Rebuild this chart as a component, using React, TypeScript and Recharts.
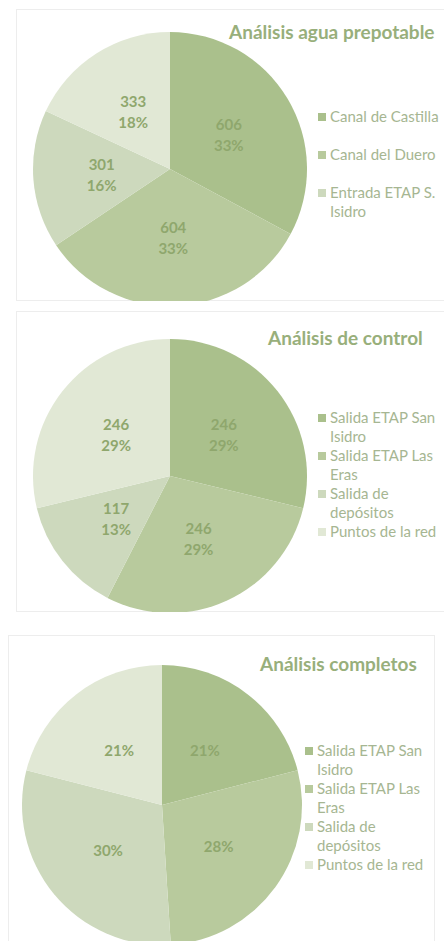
import React from 'react';
import { PieChart, Pie, Cell, Legend } from 'recharts';

// chart 1 - Análisis agua prepotable (4th slice has no legend entry)
const prepotableNames = ['Canal de Castilla', 'Canal del Duero', 'Entrada ETAP S. Isidro', ''];
const prepotableValues = [606, 604, 301, 333];
const prepotablePct = ['33%', '33%', '16%', '18%'];

// chart 2 - Análisis de control
const controlNames = ['Salida ETAP San Isidro', 'Salida ETAP Las Eras', 'Salida de depósitos', 'Puntos de la red'];
const controlValues = [246, 246, 117, 246];
const controlPct = ['29%', '29%', '13%', '29%'];

// chart 3 - Análisis completos (only percentages shown)
const completosNames = ['Salida ETAP San Isidro', 'Salida ETAP Las Eras', 'Salida de depósitos', 'Puntos de la red'];
const completosValues = [21, 28, 30, 21];
const completosPct = ['21%', '28%', '30%', '21%'];

const COLORS = ['#aac08c', '#b8ca9d', '#cdd9bd', '#e1e8d5'];
const LABEL_COLOR = '#8fa76d';
const TEXT_COLOR = '#a6b692';
const TITLE_COLOR = '#98af7b';
const FONT = 'Lato, "Open Sans", sans-serif';
const RADIAN = Math.PI / 180;

interface PanelProps {
  title: string;
  names: string[];
  values: number[];
  pct: string[];
  showValue: boolean;
  left: number;
  top: number;
  width: number;
  height: number;
  cx: number;
  cy: number;
  r: number;
  titleLeft: number;
  titleTop: number;
  legendLeft: number;
  legendTop: number;
  itemGap: number;
}

function PiePanel(p: PanelProps) {
  const data = p.names.map((name, i) => ({ name, value: p.values[i], pct: p.pct[i] }));

  const renderLabel = (props: any) => {
    const { cx, cy, midAngle, outerRadius, index } = props;
    const rr = outerRadius * 0.5;
    const x = cx + rr * Math.cos(-midAngle * RADIAN);
    const y = cy + rr * Math.sin(-midAngle * RADIAN);
    const style = { fontFamily: FONT, fontSize: 15, fontWeight: 700, fill: LABEL_COLOR };
    if (!p.showValue) {
      return (
        <text x={x} y={y} textAnchor="middle" dominantBaseline="central" style={style}>
          {data[index].pct}
        </text>
      );
    }
    return (
      <text x={x} textAnchor="middle" style={style}>
        <tspan x={x} y={y - 10} dominantBaseline="central">{data[index].value}</tspan>
        <tspan x={x} y={y + 11} dominantBaseline="central">{data[index].pct}</tspan>
      </text>
    );
  };

  const renderLegend = () => (
    <div style={{ width: 135, fontFamily: FONT, fontSize: 15, color: TEXT_COLOR, lineHeight: '19px' }}>
      {data.filter((d) => d.name !== '').map((d, i) => (
        <div key={d.name} style={{ display: 'flex', alignItems: 'flex-start', marginBottom: p.itemGap }}>
          <span style={{ width: 8, height: 8, background: COLORS[i], marginTop: 6, marginRight: 4, flex: 'none' }} />
          <span style={{ width: 114 }}>{d.name}</span>
        </div>
      ))}
    </div>
  );

  return (
    <div
      style={{
        position: 'absolute',
        left: p.left,
        top: p.top,
        width: p.width,
        height: p.height,
        boxShadow: 'inset 0 0 0 1px #ededed',
        background: '#fff',
      }}
    >
      <PieChart width={p.width} height={p.height}>
        <Pie
          data={data}
          dataKey="value"
          cx={p.cx}
          cy={p.cy}
          outerRadius={p.r}
          startAngle={90}
          endAngle={-270}
          stroke="none"
          labelLine={false}
          label={renderLabel}
          isAnimationActive={false}
        >
          {data.map((d, i) => (
            <Cell key={i} fill={COLORS[i]} />
          ))}
        </Pie>
        <Legend
          content={renderLegend}
          wrapperStyle={{ left: p.legendLeft, top: p.legendTop, width: 135 }}
        />
      </PieChart>
      <div
        style={{
          position: 'absolute',
          left: p.titleLeft,
          top: p.titleTop,
          fontFamily: FONT,
          fontSize: 19,
          fontWeight: 700,
          color: TITLE_COLOR,
          whiteSpace: 'nowrap',
        }}
      >
        {p.title}
      </div>
    </div>
  );
}

export default function App() {
  return (
    <div style={{ position: 'absolute', left: 0, top: 0, width: 444, height: 941, overflow: 'hidden', background: '#fff' }}>
      <PiePanel
        title="Análisis agua prepotable"
        names={prepotableNames}
        values={prepotableValues}
        pct={prepotablePct}
        showValue
        left={16}
        top={9}
        width={440}
        height={292}
        cx={149}
        cy={155}
        r={137}
        titleLeft={213}
        titleTop={11}
        legendLeft={302}
        legendTop={98}
        itemGap={19}
      />
      <PiePanel
        title="Análisis de control"
        names={controlNames}
        values={controlValues}
        pct={controlPct}
        showValue
        left={16}
        top={311}
        width={440}
        height={301}
        cx={149}
        cy={160}
        r={137}
        titleLeft={252}
        titleTop={15}
        legendLeft={302}
        legendTop={97}
        itemGap={0}
      />
      <PiePanel
        title="Análisis completos"
        names={completosNames}
        values={completosValues}
        pct={completosPct}
        showValue={false}
        left={8}
        top={635}
        width={427}
        height={320}
        cx={149}
        cy={165}
        r={140}
        titleLeft={252}
        titleTop={17}
        legendLeft={297}
        legendTop={106}
        itemGap={0}
      />
    </div>
  );
}
